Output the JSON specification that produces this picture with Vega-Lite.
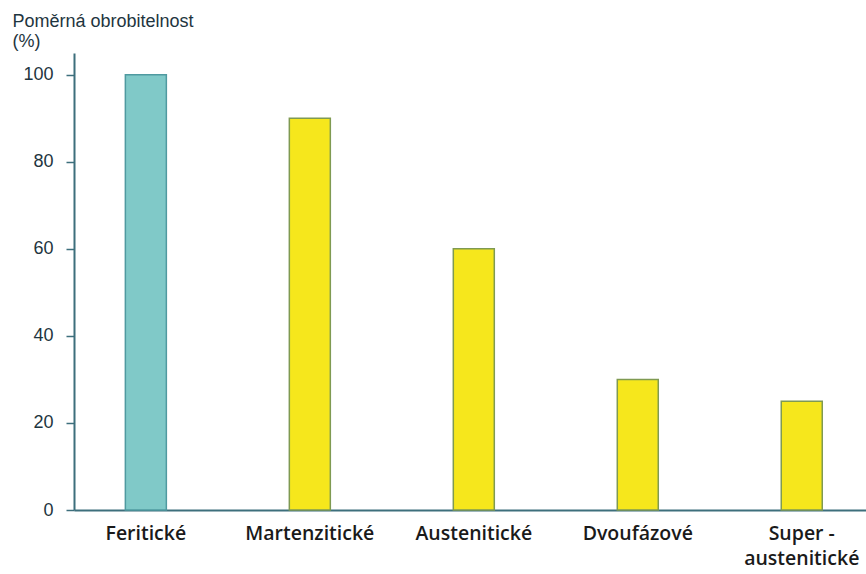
{
  "$schema": "https://vega.github.io/schema/vega-lite/v6.json",
  "width": 792,
  "height": 457,
  "autosize": "none",
  "padding": {"left": 74, "top": 53, "right": 0, "bottom": 64},
  "background": "white",
  "config": {"view": {"stroke": null}},
  "data": {
    "values": [
      {"typ": "Feritické", "obrobitelnost": 100, "skupina": "feritické"},
      {"typ": "Martenzitické", "obrobitelnost": 90, "skupina": "ostatní"},
      {"typ": "Austenitické", "obrobitelnost": 60, "skupina": "ostatní"},
      {"typ": "Dvoufázové", "obrobitelnost": 30, "skupina": "ostatní"},
      {"typ": "Super-austenitické", "obrobitelnost": 25, "skupina": "ostatní"}
    ]
  },
  "mark": {"type": "bar", "strokeWidth": 1.5},
  "encoding": {
    "x": {
      "field": "typ",
      "type": "nominal",
      "sort": null,
      "scale": {"paddingInner": 0.75, "paddingOuter": 0.29, "align": 0.54},
      "axis": {
        "title": null,
        "labelAngle": 0,
        "ticks": false,
        "domainColor": "#3d6f7c",
        "domainWidth": 2,
        "labelPadding": 14,
        "labelFont": "Open Sans",
        "labelFontSize": 19.5,
        "labelFontWeight": 600,
        "labelColor": "#1a1a1a",
        "labelLineHeight": 25,
        "labelExpr": "datum.label == 'Super-austenitické' ? ['Super -', 'austenitické'] : datum.label"
      }
    },
    "y": {
      "field": "obrobitelnost",
      "type": "quantitative",
      "scale": {"domain": [0, 105], "nice": false},
      "axis": {
        "values": [0, 20, 40, 60, 80, 100],
        "grid": false,
        "domainColor": "#3d6f7c",
        "domainWidth": 2,
        "tickColor": "#3d6f7c",
        "tickSize": 8,
        "tickWidth": 1.5,
        "labelPadding": 13,
        "labelFont": "Liberation Sans",
        "labelFontSize": 18,
        "labelColor": "#1e3540",
        "title": ["Poměrná obrobitelnost", "(%)"],
        "titleAngle": 0,
        "titleAlign": "left",
        "titleBaseline": "alphabetic",
        "titleX": -62,
        "titleY": -27,
        "titleFont": "Liberation Sans",
        "titleFontSize": 18,
        "titleFontWeight": "normal",
        "titleColor": "#1e3540",
        "titleLineHeight": 20
      }
    },
    "color": {
      "field": "skupina",
      "type": "nominal",
      "scale": {"domain": ["feritické", "ostatní"], "range": ["#80c9c8", "#f6e71c"]},
      "legend": null
    },
    "stroke": {
      "field": "skupina",
      "type": "nominal",
      "scale": {"domain": ["feritické", "ostatní"], "range": ["#4f9aa0", "#7f9a52"]},
      "legend": null
    }
  }
}
